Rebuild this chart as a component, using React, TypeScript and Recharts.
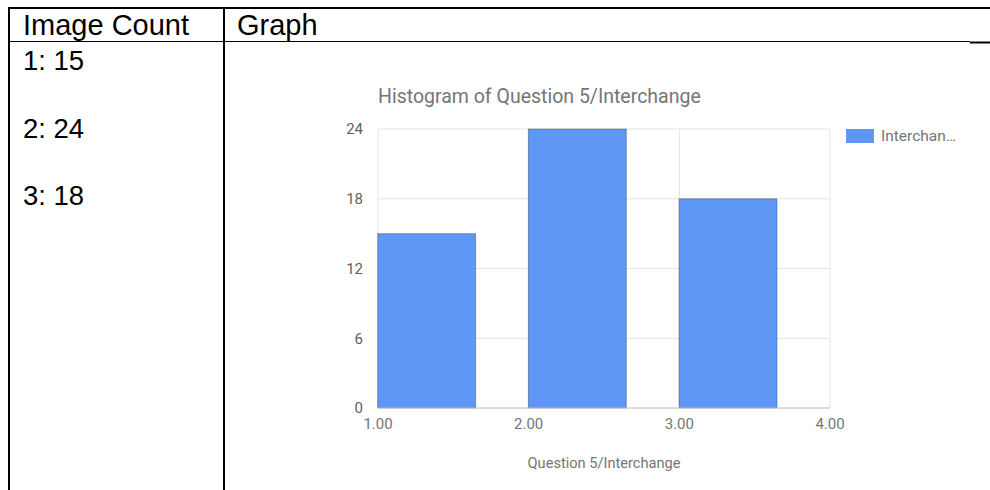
import React from 'react'
import { BarChart, Bar, XAxis, YAxis, CartesianGrid, Legend } from 'recharts'

// histogram bins (start of each bin) and counts
const binStarts = [1, 2, 3]
const counts = [15, 24, 18]
const xTicks = [1, 2, 3, 4]
const yTicks = [0, 6, 12, 18, 24]
const seriesName = 'Interchange'
const chartTitle = 'Histogram of Question 5/Interchange'
const xTitle = 'Question 5/Interchange'
const headers = ['Image Count', 'Graph']

const data = binStarts.map((x, i) => ({ x, count: counts[i] }))

const BLUE = '#5e97f6'

// recharts centers the bar on the value, histogram bars start at the bin edge
function HistBar(props: any) {
  const { x, y, width, height } = props
  if (!height || height <= 0) return null
  return (
    <rect
      x={x + width / 2}
      y={y}
      width={width}
      height={height}
      fill={BLUE}
      stroke="rgba(0,0,0,0.28)"
      strokeWidth={1}
    />
  )
}

function LegendContent() {
  const label = seriesName.length > 9 ? seriesName.slice(0, 9) + '…' : seriesName
  return (
    <div style={{ display: 'flex', alignItems: 'center', fontFamily: 'Roboto', fontSize: 15.5, color: '#757575' }}>
      <div style={{ width: 28, height: 14, background: BLUE, marginRight: 7, flexShrink: 0 }} />
      <span>{label}</span>
    </div>
  )
}

export default function App() {
  return (
    <div style={{ position: 'absolute', left: 0, top: 0, width: 990, height: 490, background: '#fff', overflow: 'hidden' }}>
      <svg width={990} height={490} style={{ position: 'absolute', left: 0, top: 0 }}>
        {/* table borders */}
        <line x1={8} y1={8} x2={990} y2={8} stroke="#000" strokeWidth={2} />
        <line x1={9} y1={7} x2={9} y2={490} stroke="#000" strokeWidth={2} />
        <line x1={224} y1={7} x2={224} y2={490} stroke="#000" strokeWidth={2} />
        <line x1={8} y1={41.5} x2={970} y2={41.5} stroke="#000" strokeWidth={1.2} />
        <line x1={970} y1={42.5} x2={990} y2={42.5} stroke="#000" strokeWidth={2} />
        <g fontFamily="'Liberation Sans', Arial, sans-serif" fill="#000">
          <text x={23} y={35} fontSize={29}>{headers[0]}</text>
          <text x={237} y={35} fontSize={29}>{headers[1]}</text>
          {counts.map((c, i) => (
            <text key={i} x={23} y={70 + i * 67.5} fontSize={27.5}>{`${binStarts[i]}: ${c}`}</text>
          ))}
        </g>
        <text x={378} y={103} fontFamily="Roboto" fontSize={19.5} fill="#757575">{chartTitle}</text>
      </svg>
      <div style={{ position: 'absolute', left: 330, top: 60 }}>
        <BarChart
          width={650}
          height={430}
          data={data}
          margin={{ top: 69, left: 8, right: 150, bottom: 42 }}
        >
          <CartesianGrid stroke="#e3e3e3" strokeWidth={1} />
          <XAxis
            dataKey="x"
            type="number"
            domain={[1, 4]}
            ticks={xTicks}
            tickFormatter={(v: number) => v.toFixed(2)}
            height={40}
            tickLine={false}
            tickMargin={4}
            axisLine={{ stroke: '#c8c8c8' }}
            tick={{ fill: '#757575', fontSize: 15, fontFamily: 'Roboto' }}
            label={{ value: xTitle, position: 'bottom', offset: 10, fill: '#757575', fontSize: 14.6, fontFamily: 'Roboto' }}
          />
          <YAxis
            type="number"
            domain={[0, 24]}
            ticks={yTicks}
            width={40}
            tickLine={false}
            axisLine={false}
            tickMargin={9}
            tick={{ fill: '#5f5f5f', fontSize: 15, fontFamily: 'Roboto' }}
          />
          <Legend
            layout="vertical"
            align="center"
            verticalAlign="middle"
            content={<LegendContent />}
            wrapperStyle={{ left: 516, top: 67, width: 130 }}
          />
          <Bar dataKey="count" name={seriesName} barSize={98} shape={<HistBar />} isAnimationActive={false} />
        </BarChart>
      </div>
    </div>
  )
}
